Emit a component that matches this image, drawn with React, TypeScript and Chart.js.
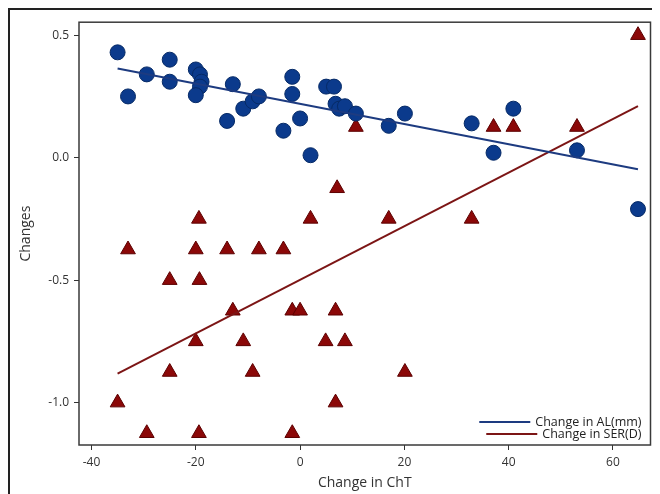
import React, { useEffect, useRef } from "react";
import { Chart, registerables } from "chart.js";

Chart.register(...registerables);

// Change in ChT (x) and Change in AL (mm) (y)
const alX = [-35, -33, -29.4, -25, -25, -20, -19.2, -18.9, -19.2, -20, -12.9, -14, -10.9, -9.1, -7.9, -3.2, -1.5, -1.5, 0, 2, 5.0, 6.5, 6.8, 7.5, 8.6, 10.7, 17, 20.1, 32.9, 37.1, 40.9, 53.1, 64.8];
const alY = [0.43, 0.25, 0.34, 0.40, 0.31, 0.36, 0.34, 0.31, 0.29, 0.255, 0.30, 0.15, 0.20, 0.23, 0.25, 0.11, 0.33, 0.26, 0.16, 0.01, 0.29, 0.29, 0.22, 0.20, 0.21, 0.18, 0.13, 0.18, 0.14, 0.02, 0.20, 0.03, -0.21];

// Change in ChT (x) and Change in SER (D) (y)
const serX = [-35, -33, -29.4, -25, -25, -20, -19.4, -19.3, -20, -19.4, -14, -12.9, -10.9, -9.1, -7.9, -3.2, -1.5, -1.5, 0, 2, 4.9, 6.8, 6.8, 7.1, 8.6, 10.7, 17, 20.1, 32.9, 37.1, 40.9, 53.1, 64.8];
const serY = [-1.0, -0.375, -1.125, -0.5, -0.875, -0.375, -0.25, -0.5, -0.75, -1.125, -0.375, -0.625, -0.75, -0.875, -0.375, -0.375, -0.625, -1.125, -0.625, -0.25, -0.75, -0.625, -1.0, -0.125, -0.75, 0.125, -0.25, -0.875, -0.25, 0.125, 0.125, 0.125, 0.5];

// Fitted lines (endpoints)
const fitX = [-35, 64.8];
const alFitY = [0.364, -0.047];
const serFitY = [-0.882, 0.21];

const xTicks = [-40, -20, 0, 20, 40, 60];
const yTicks = [-1.0, -0.5, 0.0, 0.5];

const seriesLabels = ["Change in AL(mm)", "Change in SER(D)"];
const xTitle = "Change in ChT";
const yTitle = "Changes";

const FONT = "'Open Sans', 'DejaVu Sans', sans-serif";
const BLUE = "#0b3a8c";
const BLUE_EDGE = "#062a66";
const BLUE_LINE = "#1d3b80";
const RED = "#8b0808";
const RED_EDGE = "#5c0000";
const RED_LINE = "#7c1515";
const INK = "#333333";

const pts = (xs: number[], ys: number[]) => xs.map((x, i) => ({ x, y: ys[i] }));

const framePlugin = {
  id: "frame",
  afterDatasetsDraw(chart: any) {
    const { ctx, chartArea } = chart;
    ctx.save();
    ctx.strokeStyle = "#3a3a3a";
    ctx.lineWidth = 1.5;
    ctx.strokeRect(chartArea.left, chartArea.top, chartArea.right - chartArea.left, chartArea.bottom - chartArea.top);
    ctx.restore();
  },
};

const legendPlugin = {
  id: "innerLegend",
  afterDraw(chart: any) {
    const { ctx, chartArea } = chart;
    const items = chart.data.datasets.filter((d: any) => d.showInLegend);
    ctx.save();
    ctx.font = `12.5px ${FONT}`;
    ctx.textAlign = "right";
    ctx.textBaseline = "middle";
    const right = chartArea.right - 9;
    const lineH = 12;
    const startY = chartArea.bottom - 11 - (items.length - 1) * lineH;
    items.forEach((d: any, i: number) => {
      const y = startY + i * lineH;
      ctx.fillStyle = "#222";
      ctx.fillText(d.label, right, y);
      const w = ctx.measureText(d.label).width;
      const lx2 = right - w - 5;
      ctx.strokeStyle = d.borderColor;
      ctx.lineWidth = 2;
      ctx.beginPath();
      ctx.moveTo(lx2 - 51, y);
      ctx.lineTo(lx2, y);
      ctx.stroke();
    });
    ctx.restore();
  },
};

export default function App() {
  const ref = useRef<HTMLCanvasElement | null>(null);

  useEffect(() => {
    if (!ref.current) return;
    const chart = new Chart(ref.current, {
      type: "scatter",
      data: {
        datasets: [
          {
            type: "line",
            label: seriesLabels[0],
            data: pts(fitX, alFitY),
            borderColor: BLUE_LINE,
            borderWidth: 2,
            pointRadius: 0,
            showLine: true,
            order: 0,
            showInLegend: true,
          } as any,
          {
            type: "line",
            label: seriesLabels[1],
            data: pts(fitX, serFitY),
            borderColor: RED_LINE,
            borderWidth: 2,
            pointRadius: 0,
            showLine: true,
            order: 0,
            showInLegend: true,
          } as any,
          {
            label: seriesLabels[0] + " points",
            data: pts(alX, alY),
            pointStyle: "circle",
            pointRadius: 7.5,
            backgroundColor: BLUE,
            borderColor: BLUE_EDGE,
            borderWidth: 1,
            order: 1,
          },
          {
            label: seriesLabels[1] + " points",
            data: pts(serX, serY),
            pointStyle: "triangle",
            pointRadius: 8.5,
            backgroundColor: RED,
            borderColor: RED_EDGE,
            borderWidth: 1,
            order: 1,
          },
        ],
      },
      options: {
        animation: false,
        responsive: false,
        layout: { padding: { top: 9, right: 6, left: 0, bottom: 0 } },
        plugins: { legend: { display: false }, tooltip: { enabled: false } },
        scales: {
          x: {
            type: "linear",
            min: -42.4,
            max: 67.2,
            afterBuildTicks: (s: any) => {
              s.ticks = xTicks.map((v) => ({ value: v }));
            },
            afterFit: (s: any) => {
              s.height = 49;
            },
            grid: { display: true, drawOnChartArea: false, drawTicks: true, tickLength: 5, color: INK, tickColor: INK },
            border: { display: false },
            ticks: {
              color: INK,
              padding: 5,
              font: { family: FONT, size: 12 },
              callback: (v: any) => String(v),
            },
            title: {
              display: true,
              text: xTitle,
              color: INK,
              font: { family: FONT, size: 14 },
              padding: { top: 0, bottom: 3 },
            },
          },
          y: {
            type: "linear",
            min: -1.173,
            max: 0.553,
            afterBuildTicks: (s: any) => {
              s.ticks = yTicks.map((v) => ({ value: v }));
            },
            afterFit: (s: any) => {
              s.width = 69;
            },
            grid: { display: true, drawOnChartArea: false, drawTicks: true, tickLength: 5, color: INK, tickColor: INK },
            border: { display: false },
            ticks: {
              color: INK,
              padding: 5,
              font: { family: FONT, size: 12 },
              callback: (v: any) => Number(v).toFixed(1),
            },
            title: {
              display: true,
              text: yTitle,
              color: INK,
              font: { family: FONT, size: 14 },
              padding: { top: 8, bottom: 0 },
            },
          },
        },
      },
      plugins: [framePlugin, legendPlugin],
    } as any);
    return () => chart.destroy();
  }, []);

  return (
    <div
      style={{
        position: "relative",
        width: 652,
        height: 486,
        borderLeft: "2px solid #222",
        borderTop: "2px solid #222",
        boxSizing: "border-box",
        background: "#fff",
      }}
    >
      <canvas ref={ref} width={650} height={484} style={{ display: "block" }} />
    </div>
  );
}
